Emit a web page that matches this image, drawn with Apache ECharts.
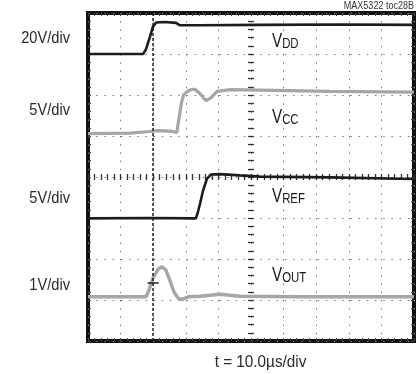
<!DOCTYPE html>
<html>
<head>
<meta charset="utf-8">
<script src="https://cdn.jsdelivr.net/npm/echarts@6/dist/echarts.min.js"></script>
<style>
  html, body { margin: 0; padding: 0; background: #fff; }
  #chart { width: 419px; height: 374px; }
</style>
</head>
<body>
<div id="chart"></div>
<script>
// Scope capture: time in microseconds (10 µs/div, 10 divisions),
// vertical position in screen divisions (0 = bottom edge, 8 = top edge).
const timeRange = [0, 100];
const divRange = [0, 8];
const triggerTime = 20;

const channelScales = ['20V/div', '5V/div', '5V/div', '1V/div'];
const channelNames = [['V', 'DD'], ['V', 'CC'], ['V', 'REF'], ['V', 'OUT']];

const vddTrace = [
  [0, 7.00], [16.9, 7.00], [17.8, 7.12], [19.0, 7.42], [19.9, 7.66], [20.9, 7.77],
  [23.6, 7.78], [27.0, 7.76], [28.2, 7.70], [34.4, 7.70], [52.8, 7.71], [77.3, 7.72], [100, 7.71]
];
const vccTrace = [
  [0, 5.06], [12.9, 5.07], [19.0, 5.11], [21.2, 5.13], [25.2, 5.12], [27.3, 5.09],
  [27.6, 5.28], [28.2, 5.57], [28.8, 5.86], [29.4, 6.01], [30.4, 6.08], [31.6, 6.13],
  [32.8, 6.14], [34.4, 6.03], [36.2, 5.86], [37.7, 5.93], [39.6, 6.09], [43.6, 6.13],
  [52.8, 6.12], [74.2, 6.09], [100, 6.07]
];
const vrefTrace = [
  [0, 2.99], [19.0, 3.00], [33.1, 2.99], [33.7, 3.14], [34.4, 3.36], [35.3, 3.67],
  [36.5, 3.96], [37.7, 4.06], [40.5, 4.07], [46.6, 4.04], [52.8, 4.01], [74.2, 3.99], [100, 3.95]
];
const voutTrace = [
  [0, 1.08], [17.8, 1.08], [18.7, 1.24], [19.9, 1.53], [21.5, 1.75], [22.7, 1.81],
  [23.9, 1.73], [25.2, 1.46], [26.4, 1.19], [27.6, 1.05], [28.8, 1.01], [30.7, 1.08],
  [34.4, 1.09], [40.5, 1.14], [46.6, 1.09], [65.0, 1.08], [100, 1.08]
];
// trigger-level cursor on the output channel
const voutCursor = [[18.3, 1.41], [21.7, 1.41]];

const FONT = "'Liberation Sans', Arial, sans-serif";
const DARK = '#1c1c1c';
const GRAY = '#a6a6a6';

const GRID = { left: 88, top: 13, right: 5, bottom: 33 };
const plotW = 419 - GRID.left - GRID.right;
const plotH = 374 - GRID.top - GRID.bottom;

const tickStyle = { color: '#444', width: 1 };
const centreTickStyle = { color: '#333', width: 1.3 };
const hiddenLine = { show: true, onZero: false, lineStyle: { color: 'rgba(0,0,0,0)' } };

function xAxisOf(extra) {
  return Object.assign({
    type: 'value', min: timeRange[0], max: timeRange[1], interval: 10,
    axisLine: hiddenLine, axisLabel: { show: false },
    splitLine: { show: false }
  }, extra);
}
function yAxisOf(extra) {
  return Object.assign({
    type: 'value', min: divRange[0], max: divRange[1], interval: 1,
    axisLine: hiddenLine, axisLabel: { show: false },
    splitLine: { show: false }
  }, extra);
}

const chart = echarts.init(document.getElementById('chart'), null, { renderer: 'canvas' });

chart.setOption({
  backgroundColor: '#fff',
  animation: false,
  grid: Object.assign({ show: true, borderColor: '#111', borderWidth: 4, backgroundColor: '#fff' }, GRID),
  xAxis: [
    // bottom frame with graticule
    xAxisOf({
      position: 'bottom',
      axisTick: { show: true, inside: true, length: 3, lineStyle: tickStyle },
      minorTick: { show: true, splitNumber: 5, length: 3, lineStyle: tickStyle },
      splitLine: { show: true, lineStyle: { color: '#7a7a7a', width: 1, type: [1.5, 6.7] } }
    }),
    // top frame ticks
    xAxisOf({
      position: 'top',
      axisTick: { show: true, inside: true, length: 3, lineStyle: tickStyle },
      minorTick: { show: true, splitNumber: 5, length: 3, lineStyle: tickStyle }
    }),
    // horizontal centre line ticks
    xAxisOf({
      position: 'bottom', offset: -(plotH / 2 + 3),
      axisTick: { show: true, inside: false, length: 6, lineStyle: centreTickStyle },
      minorTick: { show: true, splitNumber: 5, length: 6, lineStyle: centreTickStyle }
    })
  ],
  yAxis: [
    yAxisOf({
      position: 'left',
      axisTick: { show: true, inside: true, length: 3, lineStyle: tickStyle },
      minorTick: { show: true, splitNumber: 5, length: 3, lineStyle: tickStyle },
      splitLine: { show: true, lineStyle: { color: '#7a7a7a', width: 1, type: [1.5, 6.7] } }
    }),
    yAxisOf({
      position: 'right',
      axisTick: { show: true, inside: true, length: 3, lineStyle: tickStyle },
      minorTick: { show: true, splitNumber: 5, length: 3, lineStyle: tickStyle }
    }),
    // vertical centre line ticks
    yAxisOf({
      position: 'left', offset: -(plotW / 2 + 3),
      axisTick: { show: true, inside: false, length: 6, lineStyle: centreTickStyle },
      minorTick: { show: true, splitNumber: 5, length: 6, lineStyle: centreTickStyle }
    })
  ],
  series: [
    {
      name: 'VDD', type: 'line', data: vddTrace, showSymbol: false, symbol: 'none',
      lineStyle: { color: DARK, width: 2.6 }, z: 5,
      markLine: {
        silent: true, symbol: 'none', label: { show: false },
        lineStyle: { color: '#222', width: 1.5, type: [3, 2] },
        data: [{ xAxis: triggerTime }]
      }
    },
    {
      name: 'VCC', type: 'line', data: vccTrace, showSymbol: false, symbol: 'none',
      lineStyle: { color: GRAY, width: 3.2 }, z: 4
    },
    {
      name: 'VREF', type: 'line', data: vrefTrace, showSymbol: false, symbol: 'none',
      lineStyle: { color: DARK, width: 2.6 }, z: 5
    },
    {
      name: 'VOUT', type: 'line', data: voutTrace, showSymbol: false, symbol: 'none',
      lineStyle: { color: GRAY, width: 3.4 }, z: 4,
      markLine: {
        silent: true, symbol: 'none', label: { show: false },
        lineStyle: { color: '#222', width: 1.5, type: 'solid' },
        data: [[{ coord: voutCursor[0] }, { coord: voutCursor[1] }]]
      }
    }
  ]
});

// channel scale labels on the left and channel names inside the screen
// (regular face squeezed horizontally to get the condensed look)
const scaleY = [38.3, 110, 198.3, 285.2];
const nameLeft = 272;
const nameBase = [51, 127, 206, 285];
const graphics = [];
channelScales.forEach((s, i) => {
  graphics.push({
    type: 'text', x: 70, y: scaleY[i], scaleX: 0.86,
    style: { text: s, font: '17px ' + FONT, fill: '#2a2a2a', align: 'right', verticalAlign: 'middle' }
  });
});
channelNames.forEach((n, i) => {
  graphics.push({
    type: 'text', x: nameLeft, y: nameBase[i], scaleX: 0.76,
    style: {
      text: '{v|' + n[0] + '}{s|' + n[1] + '}',
      align: 'left', verticalAlign: 'bottom', fill: '#1a1a1a',
      rich: {
        v: { fontFamily: FONT, fontSize: 20, lineHeight: 20, verticalAlign: 'bottom', fill: '#1a1a1a' },
        s: { fontFamily: FONT, fontSize: 15, lineHeight: 15, verticalAlign: 'bottom', fill: '#1a1a1a' }
      }
    }
  });
});
graphics.push({
  type: 'text', x: 414, y: 6, scaleX: 0.82,
  style: { text: 'MAX5322 toc28B', font: '11px ' + FONT, fill: '#333', align: 'right', verticalAlign: 'middle' }
});
graphics.push({
  type: 'text', x: 260.5, y: 362.5, scaleX: 0.9,
  style: { text: 't = 10.0\u00b5s/div', font: '17px ' + FONT, fill: '#2a2a2a', align: 'center', verticalAlign: 'middle' }
});
chart.setOption({ graphic: graphics });
</script>
</body>
</html>
